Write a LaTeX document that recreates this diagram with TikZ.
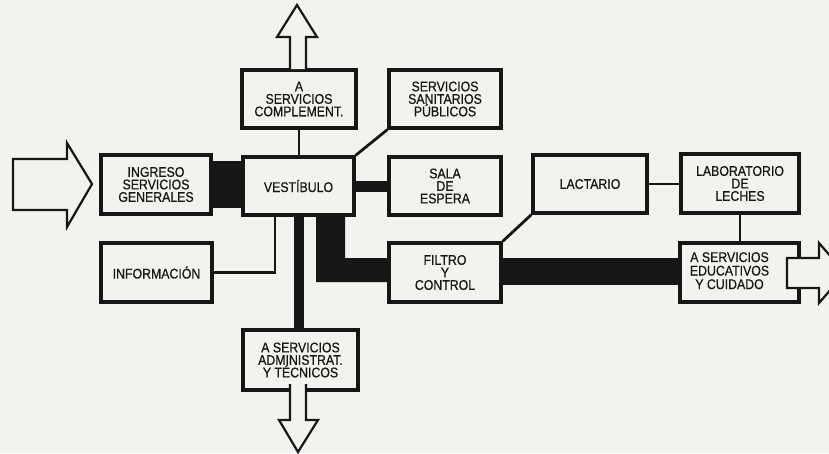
\documentclass[tikz,border=0pt]{standalone}
\usepackage{fontspec}
\setmainfont{Liberation Sans}[FakeStretch=0.88,FakeBold=0.6]
\usetikzlibrary{calc}
\definecolor{paper}{RGB}{242,243,238}
\definecolor{ink}{RGB}{22,22,22}
\begin{document}
\begin{tikzpicture}[x=1pt,y=-1pt,
  box/.style={draw=ink, line width=3.2pt, fill=paper, inner sep=0pt, align=center,
    font=\fontsize{14}{12.5}\selectfont, text=ink},
  link/.style={draw=ink, line width=2.8pt},
  bigarrow/.style={draw=ink, fill=paper, line width=2.2pt, line join=miter}]
\fill[paper] (0,0) rectangle (829,453);
\useasboundingbox (0,0) rectangle (829,453);

% boxes
\node[box, minimum width=114pt, minimum height=58pt] (comp) at (299,99) {A\\SERVICIOS\\COMPLEMENT.};
\node[box, minimum width=112pt, minimum height=58pt] (sanit) at (445,99) {SERVICIOS\\SANITARIOS\\PÚBLICOS};
\node[box, minimum width=110pt, minimum height=59pt] (ingreso) at (156,184.5) {INGRESO\\SERVICIOS\\GENERALES};
\node[box, minimum width=111pt, minimum height=58pt] (vest) at (298.5,186) {VESTÍBULO};
\node[box, minimum width=112pt, minimum height=58pt] (sala) at (445,186) {SALA\\DE\\ESPERA};
\node[box, minimum width=114pt, minimum height=58pt] (lact) at (590,184) {LACTARIO};
\node[box, minimum width=118pt, minimum height=59pt] (lab) at (740,183.5) {LABORATORIO\\DE\\LECHES};
\node[box, minimum width=111pt, minimum height=59pt] (info) at (156.5,272.5) {INFORMACIÓN};
\node[box, minimum width=112pt, minimum height=59pt] (filtro) at (445,272.5) {FILTRO\\Y\\CONTROL};
\node[box, minimum width=119pt, minimum height=59pt] (edu) at (739.5,272.5)
  {\begin{tabular}{@{}c@{}}A SERVICIOS\\EDUCATIVOS\\Y CUIDADO\end{tabular}\hspace*{20pt}};
\node[box, minimum width=115pt, minimum height=60pt] (admin) at (300.5,360) {A SERVICIOS\\ADMINISTRAT.\\Y TÉCNICOS};

% connectors
\draw[link] (comp.south) -- (comp.south |- vest.north);
\draw[ink, line width=47pt] (ingreso.east) -- (ingreso.east -| vest.west);
\draw[ink, line width=11pt] (vest.east) -- (vest.east -| sala.west);
\draw[link] (vest.north east) -- (sanit.south west);
\draw[link] (info.east) -| ([xshift=-23.5pt]vest.south);
\draw[ink, line width=10pt] (vest.south) -- (vest.south |- admin.north);
\fill[ink] ([xshift=17.5pt]vest.south) -- ([xshift=46.5pt]vest.south)
  |- ([yshift=14.5pt]filtro.west) -- ([yshift=-9.5pt]filtro.west)
  -| ([xshift=17.5pt]vest.south) -- cycle;
\draw[ink, line width=27pt] ([yshift=1pt]filtro.east) -- ([yshift=1pt]filtro.east -| edu.west);
\draw[link] (lact.south west) -- (filtro.north east);
\draw[link, line width=2.4pt] (lact.east) -- (lact.east -| lab.west);
\draw[link] (lab.south) -- (lab.south |- edu.north);

% big hollow arrows
\filldraw[bigarrow] (13,159) -- (67,159) -- (67,143) -- (92,184) -- (67,227) -- (67,210) -- (13,210) -- cycle;
\filldraw[bigarrow] (290,69) -- (290,37) -- (277,37) -- (297,5) -- (317,37) -- (306,37) -- (306,69);
\filldraw[bigarrow] (290,384) -- (290,420) -- (279,420) -- (298,452) -- (318,420) -- (306,420) -- (306,384);
\filldraw[bigarrow] (787,258) -- (819,258) -- (819,243) -- (845,273) -- (819,303) -- (819,288) -- (787,288) -- cycle;
\end{tikzpicture}
\end{document}
